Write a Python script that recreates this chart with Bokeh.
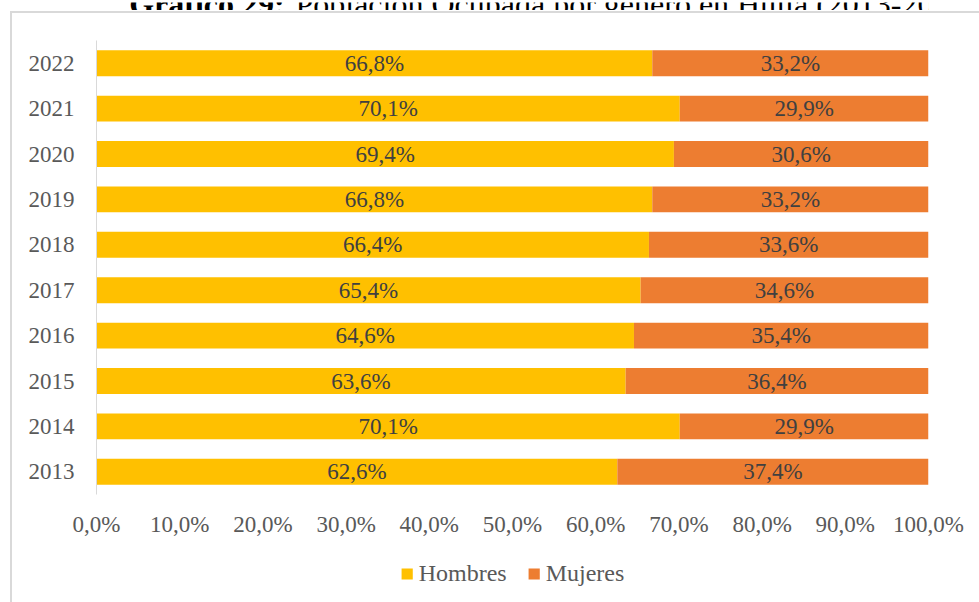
from bokeh.plotting import figure
from bokeh.layouts import column
from bokeh.models import (Range1d, FixedTicker, Label, Legend,
                          LegendItem, ColumnDataSource)
from bokeh.core.properties import value
from bokeh.embed import file_html
from bokeh.resources import INLINE

years = [2013, 2014, 2015, 2016, 2017, 2018, 2019, 2020, 2021, 2022]
year_labels = ["2013", "2014", "2015", "2016", "2017", "2018", "2019", "2020", "2021", "2022"]
hombres = [62.6, 70.1, 63.6, 64.6, 65.4, 66.4, 66.8, 69.4, 70.1, 66.8]
mujeres = [37.4, 29.9, 36.4, 35.4, 34.6, 33.6, 33.2, 30.6, 29.9, 33.2]
x_ticks = [0, 10, 20, 30, 40, 50, 60, 70, 80, 90, 100]
x_tick_labels = ["0,0%", "10,0%", "20,0%", "30,0%", "40,0%", "50,0%",
                 "60,0%", "70,0%", "80,0%", "90,0%", "100,0%"]
series_names = ["Hombres", "Mujeres"]
title_bold = "Gráfico 29:"
title_rest = "Población Ocupada por género en Huila (2013-2022)"

YELLOW = "#FFC000"
ORANGE = "#ED7D31"
BORDER = "#d9d9d9"
FONT = "Liberation Serif"

def fmt(v):
    return ("%.1f%%" % v).replace(".", ",")

src = ColumnDataSource(dict(
    y=years,
    h=hombres,
    m=mujeres,
    zero=[0] * len(years),
    hm=[a + b for a, b in zip(hombres, mujeres)],
    hx=[a / 2 for a in hombres],
    mx=[a + b / 2 for a, b in zip(hombres, mujeres)],
    hl=[fmt(a) for a in hombres],
    ml=[fmt(b) for b in mujeres],
))

W = 979
FRAME_L, FRAME_W = 96, 832           # main plot frame, px
PX_PER_UNIT = FRAME_W / 100.0

# ---- title strip (only the lower part of the title shows, as in the source)
pt = figure(width=W, height=10, output_backend="svg", toolbar_location=None,
            x_range=Range1d(-FRAME_L / PX_PER_UNIT, (W - FRAME_L) / PX_PER_UNIT),
            y_range=Range1d(0, 10), x_axis_type=None, y_axis_type=None,
            min_border_left=0, min_border_right=0, min_border_top=0,
            min_border_bottom=0, outline_line_color=None)
pt.background_fill_color = "white"
pt.border_fill_color = "white"
pt.xgrid.visible = False
pt.ygrid.visible = False
# bold part ends where the regular part begins, so they can never overlap
pt.add_layout(Label(x=15.07, y=8.5, text=title_bold, text_font=FONT,
                    text_font_size="32px", text_font_style="bold",
                    text_color="black", text_align="right",
                    text_baseline="alphabetic"))
pt.add_layout(Label(x=16.6, y=8.5, text=title_rest, text_font=FONT,
                    text_font_size="32px", text_color="black",
                    text_align="left", text_baseline="alphabetic"))

# ---- main chart; chart-area border drawn as CSS (left and top edges)
border_top_css = (
    "linear-gradient(%s,%s) no-repeat 10px 1px / 2px 100%%, "
    "linear-gradient(%s,%s) no-repeat 10px 1px / 100%% 2px, white"
    % (BORDER, BORDER, BORDER, BORDER)
)
border_low_css = ("linear-gradient(%s,%s) no-repeat 10px 0px / 2px 100%%, white"
                  % (BORDER, BORDER))

p = figure(width=W, height=534, output_backend="svg", toolbar_location=None,
           x_range=Range1d(0, 100), y_range=Range1d(2012.5, 2022.5),
           min_border_left=FRAME_L, min_border_right=W - FRAME_L - FRAME_W,
           min_border_top=30, min_border_bottom=50, outline_line_color=None,
           styles={"background": border_top_css})
p.background_fill_color = "white"
p.border_fill_color = None
p.xgrid.visible = False
p.ygrid.visible = False

p.hbar(y="y", left="zero", right="h", height=0.57, source=src,
       fill_color=YELLOW, line_color=None)
p.hbar(y="y", left="h", right="hm", height=0.57, source=src,
       fill_color=ORANGE, line_color=None)

p.text(x="hx", y="y", text="hl", source=src, text_align="center",
       text_baseline="middle", text_font=value(FONT), text_font_size="23px",
       text_color="#404040")
p.text(x="mx", y="y", text="ml", source=src, text_align="center",
       text_baseline="middle", text_font=value(FONT), text_font_size="23px",
       text_color="#404040")

p.xaxis.ticker = FixedTicker(ticks=x_ticks)
p.xaxis.major_label_overrides = {t: l for t, l in zip(x_ticks, x_tick_labels)}
p.xaxis.axis_line_color = None
p.xaxis.major_tick_line_color = None
p.xaxis.minor_tick_line_color = None
p.xaxis.major_label_text_font = FONT
p.xaxis.major_label_text_font_size = "23px"
p.xaxis.major_label_text_color = "#595959"
p.xaxis.major_label_standoff = 11

p.yaxis.ticker = FixedTicker(ticks=years)
p.yaxis.major_label_overrides = {t: l for t, l in zip(years, year_labels)}
p.yaxis.axis_line_color = BORDER
p.yaxis.axis_line_width = 1
p.yaxis.major_tick_line_color = None
p.yaxis.minor_tick_line_color = None
p.yaxis.major_label_text_font = FONT
p.yaxis.major_label_text_font_size = "23px"
p.yaxis.major_label_text_color = "#595959"
p.yaxis.major_label_standoff = 16

# ---- legend strip below the chart
pl = figure(width=W, height=58, output_backend="svg", toolbar_location=None,
            x_range=Range1d(0, 1), y_range=Range1d(0, 1),
            x_axis_type=None, y_axis_type=None,
            min_border_left=0, min_border_right=0, min_border_top=0,
            min_border_bottom=0, outline_line_color=None,
            styles={"background": border_low_css})
pl.background_fill_color = None
pl.border_fill_color = None
pl.xgrid.visible = False
pl.ygrid.visible = False
nan = float("nan")
key_src = ColumnDataSource(dict(y=[nan], l=[nan], r=[nan]))
lh = pl.hbar(y="y", left="l", right="r", height=0.5, source=key_src,
             fill_color=YELLOW, line_color=None)
lm = pl.hbar(y="y", left="l", right="r", height=0.5, source=key_src,
             fill_color=ORANGE, line_color=None)

legend = Legend(items=[LegendItem(label=series_names[0], renderers=[lh]),
                       LegendItem(label=series_names[1], renderers=[lm])],
                orientation="horizontal", location="center",
                glyph_width=14, glyph_height=14, label_standoff=5, spacing=20,
                padding=0, margin=0, border_line_color=None,
                background_fill_alpha=0,
                label_text_font=FONT, label_text_font_size="24px",
                label_text_color="#595959")
pl.add_layout(legend)

layout = column(pt, p, pl, spacing=0)
open("out.html", "w").write(file_html(layout, INLINE))
